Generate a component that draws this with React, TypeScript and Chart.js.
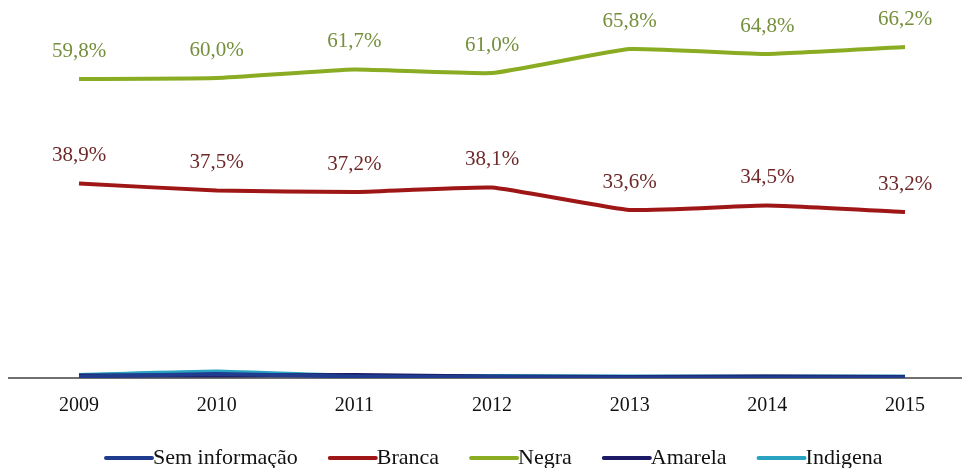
import React, { useEffect, useRef } from "react";
import { Chart, registerables } from "chart.js";

Chart.register(...registerables);

const years = ["2009", "2010", "2011", "2012", "2013", "2014", "2015"];
const semInformacao = [0.3, 0.8, 0.3, 0.2, 0.1, 0.1, 0.1];
const branca = [38.9, 37.5, 37.2, 38.1, 33.6, 34.5, 33.2];
const negra = [59.8, 60.0, 61.7, 61.0, 65.8, 64.8, 66.2];
const amarela = [0.5, 0.5, 0.6, 0.3, 0.2, 0.3, 0.2];
const indigena = [0.6, 1.3, 0.4, 0.4, 0.3, 0.3, 0.3];

const SERIF = "'Liberation Serif', 'Times New Roman', serif";
const fmt = (v: number) => v.toFixed(1).replace(".", ",") + "%";

const labelPlugin = {
  id: "valueLabels",
  afterDatasetsDraw(chart: any) {
    const ctx = chart.ctx;
    ctx.save();
    ctx.font = "21px " + SERIF;
    ctx.textAlign = "center";
    ctx.textBaseline = "middle";
    chart.data.datasets.forEach((ds: any, i: number) => {
      if (!ds.showLabels) return;
      const meta = chart.getDatasetMeta(i);
      meta.data.forEach((pt: any, j: number) => {
        ctx.fillStyle = ds.labelColor;
        ctx.fillText(fmt(ds.data[j]), pt.x, pt.y - 28);
      });
    });
    ctx.restore();
  },
};

const axisLinePlugin = {
  id: "axisLine",
  beforeDatasetsDraw(chart: any) {
    const ctx = chart.ctx;
    const y = chart.scales.y.getPixelForValue(0);
    ctx.save();
    ctx.strokeStyle = "#404040";
    ctx.lineWidth = 1.5;
    ctx.beginPath();
    ctx.moveTo(8, y);
    ctx.lineTo(962, y);
    ctx.stroke();
    ctx.restore();
  },
};

const legendPlugin = {
  id: "customLegend",
  afterDraw(chart: any) {
    const ctx = chart.ctx;
    const y = 458;
    const lineLen = 46;
    const gap = 32;
    ctx.save();
    ctx.font = "22px " + SERIF;
    ctx.textBaseline = "middle";
    ctx.textAlign = "left";
    let x = 106;
    chart.data.datasets.forEach((ds: any) => {
      ctx.strokeStyle = ds.borderColor;
      ctx.lineWidth = 4;
      ctx.lineCap = "round";
      ctx.beginPath();
      ctx.moveTo(x, y);
      ctx.lineTo(x + lineLen, y);
      ctx.stroke();
      ctx.fillStyle = "#111";
      ctx.fillText(ds.label, x + lineLen + 1, y);
      x += lineLen + 1 + ctx.measureText(ds.label).width + gap;
    });
    ctx.restore();
  },
};

export default function App() {
  const ref = useRef<HTMLCanvasElement>(null);
  useEffect(() => {
    if (!ref.current) return;
    const mk = (label: string, data: number[], color: string, extra: any = {}) => ({
      label,
      data,
      borderColor: color,
      backgroundColor: color,
      borderWidth: 4,
      pointRadius: 0,
      tension: 0.12,
      ...extra,
    });
    const chart = new Chart(ref.current, {
      type: "line",
      data: {
        labels: years,
        datasets: [
          mk("Sem informação", semInformacao, "#1f3c8f"),
          mk("Branca", branca, "#9e1616", { showLabels: true, labelColor: "#6e2a2a" }),
          mk("Negra", negra, "#8aac22", { showLabels: true, labelColor: "#768f3c" }),
          mk("Amarela", amarela, "#1c1a66"),
          mk("Indigena", indigena, "#2aa3c2"),
        ] as any,
      },
      options: {
        animation: false,
        responsive: false,
        maintainAspectRatio: false,
        layout: { padding: { left: 79, right: 57, top: 28, bottom: 50 } },
        scales: {
          x: {
            offset: false,
            grid: { display: false, drawTicks: false },
            border: { display: false },
            afterFit: (scale: any) => {
              scale.height = 40;
            },
            ticks: {
              color: "#111",
              padding: 16,
              font: { family: SERIF, size: 20 },
              maxRotation: 0,
            },
          },
          y: {
            display: false,
            min: 0,
            max: 70,
          },
        },
        plugins: {
          legend: { display: false },
          tooltip: { enabled: false },
        },
      },
      plugins: [axisLinePlugin, labelPlugin, legendPlugin],
    });
    return () => chart.destroy();
  }, []);
  return (
    <div style={{ position: "absolute", left: 0, top: 0, width: 962, height: 468, background: "#fff" }}>
      <canvas ref={ref} width={962} height={468} style={{ width: 962, height: 468 }} />
    </div>
  );
}
